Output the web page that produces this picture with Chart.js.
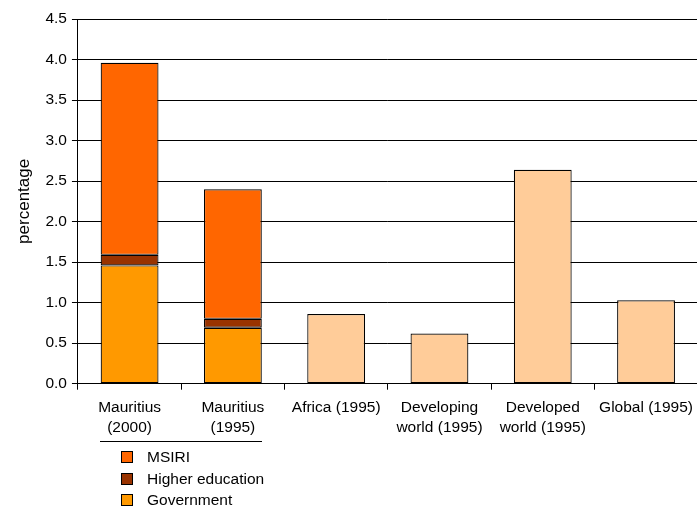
<!DOCTYPE html>
<html>
<head>
<meta charset="utf-8">
<script src="https://cdn.jsdelivr.net/npm/chart.js@4"></script>
<style>
  html, body { margin: 0; padding: 0; background: #fff; overflow: hidden; }
  #wrap { width: 701px; height: 507px; }
</style>
</head>
<body>
<div id="wrap"><canvas id="myChart"></canvas></div>
<script>
var categories = [
  ['Mauritius', '(2000)'],
  ['Mauritius', '(1995)'],
  'Africa (1995)',
  ['Developing', 'world (1995)'],
  ['Developed', 'world (1995)'],
  'Global (1995)'
];
var government = [1.46, 0.69, null, null, null, null];
var higherEducation = [0.13, 0.11, null, null, null, null];
var msiri = [2.37, 1.60, null, null, null, null];
var comparison = [null, null, 0.86, 0.62, 2.64, 1.03];
var yTicks = { min: 0, max: 4.5, step: 0.5 };

var FAMILY = "Arial, 'Liberation Sans', sans-serif";
var FONT = { family: FAMILY, size: 15.5, lineHeight: 1.3 };

// legend + bracket line under the Mauritius bars
var mauritiusLegend = {
  id: 'mauritiusLegend',
  afterDraw: function(chart) {
    var ctx = chart.ctx;
    var bars = chart.getDatasetMeta(0).data;
    var left = Math.round(bars[0].x - bars[0].width / 2) - 1;
    var right = Math.round(bars[1].x + bars[1].width / 2);
    var y0 = Math.round(chart.chartArea.bottom + 57);
    ctx.save();
    ctx.strokeStyle = '#000';
    ctx.lineWidth = 1;
    ctx.beginPath();
    ctx.moveTo(left, y0 + 0.5);
    ctx.lineTo(right, y0 + 0.5);
    ctx.stroke();

    var items = [
      { text: 'MSIRI', color: '#FF6600' },
      { text: 'Higher education', color: '#993300' },
      { text: 'Government', color: '#FF9900' }
    ];
    ctx.font = FONT.size + 'px ' + FAMILY;
    ctx.textBaseline = 'middle';
    items.forEach(function(it, i) {
      var cy = Math.round(y0 + 16 + i * 21.5);
      var bx = left + 21;
      ctx.fillStyle = it.color;
      ctx.fillRect(bx, cy - 6, 12, 12);
      ctx.strokeStyle = '#000';
      ctx.strokeRect(bx + 0.5, cy - 5.5, 11, 11);
      ctx.fillStyle = '#000';
      ctx.fillText(it.text, bx + 26, cy + 1);
    });
    ctx.restore();
  }
};

function ds(label, data, color) {
  return {
    label: label,
    data: data,
    backgroundColor: color,
    borderColor: '#000',
    borderWidth: 1.2,
    borderSkipped: false,
    barPercentage: 0.56,
    categoryPercentage: 1
  };
}

var ctx = document.getElementById('myChart').getContext('2d');
var myChart = new Chart(ctx, {
  type: 'bar',
  data: {
    labels: categories,
    datasets: [
      ds('Government', government, '#FF9900'),
      ds('Higher education', higherEducation, '#993300'),
      ds('MSIRI', msiri, '#FF6600'),
      ds('Comparison', comparison, '#FFCC99')
    ]
  },
  options: {
    responsive: true,
    maintainAspectRatio: false,
    animation: false,
    layout: { padding: { top: 19, right: 0, bottom: 61, left: 8 } },
    plugins: {
      legend: { display: false },
      tooltip: { enabled: false }
    },
    scales: {
      x: {
        stacked: true,
        grid: { offset: true, drawOnChartArea: false, drawTicks: true, tickLength: 6, color: '#000' },
        border: { color: '#000' },
        ticks: { color: '#000', font: FONT, maxRotation: 0, autoSkip: false, padding: 8 }
      },
      y: {
        stacked: true,
        min: yTicks.min,
        max: yTicks.max,
        ticks: {
          stepSize: yTicks.step,
          color: '#000',
          font: FONT,
          padding: 5,
          callback: function(v) { return v.toFixed(1); }
        },
        grid: { color: '#000', tickLength: 6 },
        border: { color: '#000' },
        title: { display: true, text: 'percentage', color: '#000', font: { family: FAMILY, size: 17 }, padding: 6 }
      }
    }
  },
  plugins: [mauritiusLegend]
});
</script>
</body>
</html>
